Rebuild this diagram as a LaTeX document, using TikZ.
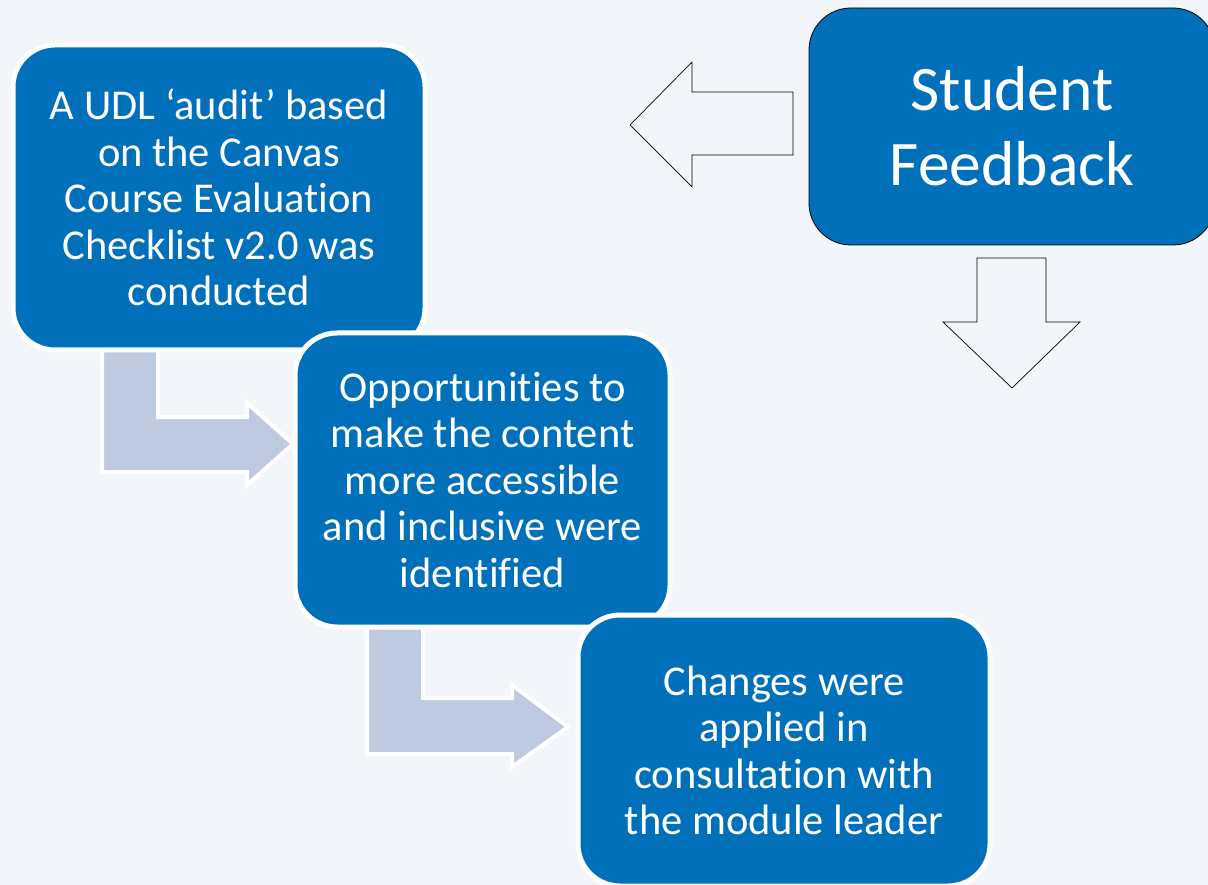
\documentclass[tikz,border=0pt]{standalone}
\usepackage{fontspec}
\setmainfont{Carlito}[Ligatures={NoCommon}]
\definecolor{bgc}{RGB}{242,245,250}
\definecolor{boxblue}{RGB}{0,112,186}
\definecolor{arrowfill}{RGB}{191,201,224}
\begin{document}
\begin{tikzpicture}[x=1pt,y=-1pt,
  stepbox/.style={rectangle, rounded corners=42pt, fill=boxblue, draw=white, line width=5pt,
    text=white, align=center, inner sep=0pt, font=\fontsize{42.5}{46.5}\selectfont},
  fbbox/.style={rectangle, rounded corners=42pt, fill=boxblue, draw=black, line width=0.8pt,
    text=white, align=center, inner sep=0pt, font=\fontsize{63.5}{75}\selectfont},
  bentarrow/.style={fill=arrowfill, draw=white, line width=4pt, line join=miter},
  outlinearrow/.style={fill=bgc, draw=black, line width=0.7pt, line join=miter}]
\useasboundingbox (0,0) rectangle (1208,885);
\fill[bgc] (0,0) rectangle (1208,885);

% bent arrows (behind boxes)
\draw[bentarrow] (102,350) -- (158,350) -- (158,417) -- (247,417) -- (247,403) -- (293,444)
  -- (247,485) -- (247,472) -- (102,472) -- cycle;
\draw[bentarrow] (367,626) -- (423,626) -- (423,698) -- (512,698) -- (512,685) -- (568,727)
  -- (512,767) -- (512,754) -- (367,754) -- cycle;

% boxes
\node[stepbox, minimum width=412pt, minimum height=305pt] (b1) at (219,197.5)
  {A UDL ‘audit’ based\\on the Canvas\\Course Evaluation\\Checklist v2.0 was\\conducted};
\node[stepbox, minimum width=375pt, minimum height=294pt] (b2) at (482.5,480)
  {Opportunities to\\make the content\\more accessible\\and inclusive were\\identified};
\node[stepbox, minimum width=412pt, minimum height=271pt] (b3) at (784,750.5)
  {Changes were\\applied in\\consultation with\\the module leader};
\node[fbbox, minimum width=406pt, minimum height=237pt] (sf) at (1012,126.5)
  {Student\\Feedback};

% outline arrows from Student Feedback
\draw[outlinearrow] (793,92) -- (692,92) -- (692,62) -- (630,125) -- (692,187) -- (692,155)
  -- (793,155) -- cycle;
\draw[outlinearrow] (977,258) -- (1046,258) -- (1046,322) -- (1080,322) -- (1012,388)
  -- (943,322) -- (977,322) -- cycle;
\end{tikzpicture}
\end{document}
